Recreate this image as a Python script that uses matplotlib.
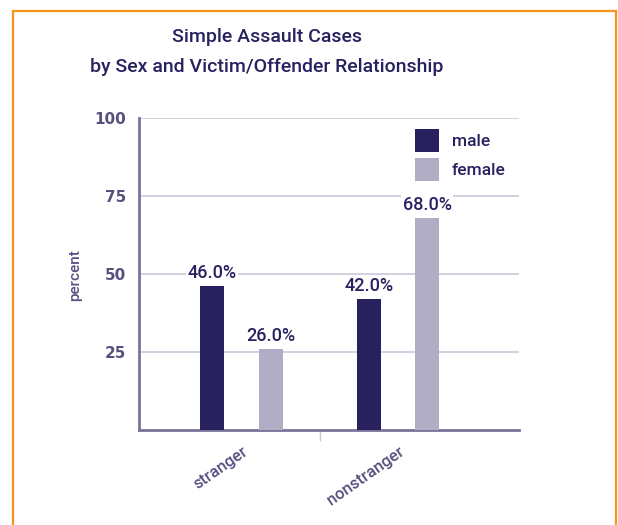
import matplotlib
matplotlib.use("Agg")
import matplotlib.pyplot as plt
from matplotlib.patches import Patch, Rectangle
import numpy as np

categories = ["stranger", "nonstranger"]
male = [46.0, 42.0]
female = [26.0, 68.0]
series_names = ["male", "female"]
yticks = [25, 50, 75, 100]

navy = "#27225f"
lilac = "#b1adc5"
axis_col = "#7a7299"
grid_col = "#cbc8da"
label_col = "#57507f"
orange = "#f7941d"

plt.rcParams["font.family"] = ["DejaVu Sans"]
rob = ["Roboto", "DejaVu Sans"]

fig = plt.figure(figsize=(6.18, 5.25), dpi=100)
ax = fig.add_axes([139 / 618, 1 - 430 / 525, 380 / 618, 312 / 525])

x = np.arange(len(categories))
w = 0.153
off = 0.188
b1 = ax.bar(x - off, male, w, color=navy, zorder=3)
b2 = ax.bar(x + off, female, w, color=lilac, zorder=3)

for bars, vals in ((b1, male), (b2, female)):
    for r, v in zip(bars, vals):
        ax.annotate(f"{v:.1f}%", (r.get_x() + r.get_width() / 2, v),
                    xytext=(0, 3), textcoords="offset points",
                    ha="center", va="bottom", fontsize=13, color=navy,
                    fontweight="medium", family=rob, zorder=4,
                    bbox=dict(facecolor="white", edgecolor="none", pad=1))

ax.set_xlim(-0.655, 1.773)
ax.set_ylim(0, 100)
ax.set_yticks(yticks)
ax.set_yticklabels([str(t) for t in yticks], fontsize=11, color=label_col,
                   fontweight="bold")
ax.yaxis.grid(True, color=grid_col, linewidth=1.2, zorder=0)
ax.tick_params(axis="y", length=0, pad=9)

ax.set_xticks(x)
ax.set_xticklabels(categories, rotation=35, ha="right", fontsize=12,
                   color=label_col, rotation_mode="anchor",
                   fontweight="medium", family=rob)
ax.tick_params(axis="x", length=0, pad=10)
ax.set_xticks([0.5], minor=True)
ax.tick_params(axis="x", which="minor", length=8, width=1, color=grid_col)

for s in ("top", "right"):
    ax.spines[s].set_visible(False)
for s in ("left", "bottom"):
    ax.spines[s].set_color(axis_col)
    ax.spines[s].set_linewidth(2)

handles = [Patch(facecolor=navy), Patch(facecolor=lilac)]
ax.legend(handles, series_names, loc="upper left",
          bbox_to_anchor=(0.726, 0.965), frameon=False,
          prop=dict(family=rob, weight="medium", size=12.5),
          handlelength=1.38, handleheight=1.67, labelspacing=0.35,
          handletextpad=0.75, borderpad=0, borderaxespad=0,
          labelcolor=navy)

fig.text(75 / 618, 1 - 275 / 525, "percent", rotation=90, ha="center",
         va="center", fontsize=11, color=label_col, fontweight="medium",
         family=rob)

fig.text(267 / 618, 1 - 37 / 525, "Simple Assault Cases", ha="center",
         va="center", fontsize=14, color=navy, fontweight="medium",
         family=rob)
fig.text(267 / 618, 1 - 67 / 525, "by Sex and Victim/Offender Relationship",
         ha="center", va="center", fontsize=14, color=navy,
         fontweight="medium", family=rob)

fig.patches.append(Rectangle((13 / 618, -0.1), 603 / 618, 1.1 - 11 / 525,
                             transform=fig.transFigure, fill=False,
                             edgecolor=orange, linewidth=1.6))

fig.savefig("out.png", dpi=100)
